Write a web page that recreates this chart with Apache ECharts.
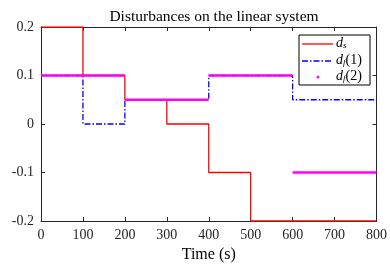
<!DOCTYPE html>
<html>
<head>
<meta charset="utf-8">
<script src="https://cdn.jsdelivr.net/npm/echarts@6/dist/echarts.min.js"></script>
<style>
  html, body { margin: 0; padding: 0; background: #fff; }
  #chart { width: 390px; height: 268px; }
</style>
</head>
<body>
<div id="chart"></div>
<script>
// step breakpoints (s) and values held until the next breakpoint
var dsTimes = [0, 100, 200, 300, 400, 500, 800];
var dsValues = [0.2, 0.1, 0.05, 0, -0.1, -0.2, -0.2];
var df1Times = [0, 100, 200, 400, 600, 800];
var df1Values = [0.1, 0, 0.05, 0.1, 0.05, 0.05];
// df(2) is drawn with dots, so no vertical jumps
var df2Edges = [0, 200, 400, 600, 800];
var df2Values = [0.1, 0.05, 0.1, -0.1];
var xTicks = [0, 800, 100];
var yTicks = [-0.2, 0.2, 0.1];
var legendNames = ['{d|d}{sub|s}', '{d|d}{sub|f}{n|(1)}', '{d|d}{sub|f}{n|(2)}'];

function pairs(xs, ys) {
  return xs.map(function (x, i) { return [x, ys[i]]; });
}
function segments(edges, vals) {
  var out = [];
  vals.forEach(function (v, i) {
    out.push([edges[i], v], [edges[i + 1], v]);
    if (i < vals.length - 1) out.push([edges[i + 1], '-']);
  });
  return out;
}

var font = 'Liberation Serif';
var axisColor = '#262626';
var red = '#ff0000', blue = '#0000ff', magenta = '#ff00ff';
var dashDot = [6, 2, 1.5, 2];

var chart = echarts.init(document.getElementById('chart'));
var baseX = {
  type: 'value', min: xTicks[0], max: xTicks[1], interval: xTicks[2],
  axisLine: { onZero: false, lineStyle: { color: axisColor, width: 1 } },
  axisTick: { inside: true, length: 4, lineStyle: { color: axisColor } },
  splitLine: { show: false }
};
var baseY = {
  type: 'value', min: yTicks[0], max: yTicks[1], interval: yTicks[2],
  axisLine: { show: true, onZero: false, lineStyle: { color: axisColor, width: 1 } },
  axisTick: { show: true, inside: true, length: 4, lineStyle: { color: axisColor } },
  splitLine: { show: false }
};

// legend box drawn by hand (matlab style)
var rich = {
  d: { fontFamily: font, fontSize: 14, fontStyle: 'italic', lineHeight: 16 },
  sub: { fontFamily: font, fontSize: 9, fontStyle: 'italic', lineHeight: 16, padding: [6, 0, 0, 0] },
  n: { fontFamily: font, fontSize: 14, fontStyle: 'normal', lineHeight: 16 }
};
var lx = 299, ly = 35, rowY = [44, 61, 77];
var legendGraphic = [
  { type: 'rect', z: 100, shape: { x: lx, y: ly, width: 71, height: 50 },
    style: { fill: '#fff', stroke: '#000', lineWidth: 1 } },
  { type: 'line', z: 101, shape: { x1: 302, y1: rowY[0], x2: 333, y2: rowY[0] },
    style: { stroke: red, lineWidth: 1.3 } },
  { type: 'line', z: 101, shape: { x1: 302, y1: rowY[1], x2: 333, y2: rowY[1] },
    style: { stroke: blue, lineWidth: 1.3, lineDash: dashDot } },
  { type: 'circle', z: 101, shape: { cx: 318, cy: rowY[2], r: 1.5 },
    style: { fill: magenta } }
];
legendNames.forEach(function (t, i) {
  legendGraphic.push({ type: 'text', z: 101, x: 336, y: rowY[i] - 1,
    style: { text: t, rich: rich, verticalAlign: 'middle', fill: '#000' } });
});

chart.setOption({
  animation: false,
  title: {
    text: 'Disturbances on the linear system',
    left: 209, top: 4, textAlign: 'center',
    textStyle: { fontFamily: font, fontSize: 15.5, fontWeight: 'normal', color: '#000' }
  },
  grid: { left: 41, right: 12, top: 27, bottom: 44 },
  graphic: legendGraphic,
  xAxis: [
    Object.assign({}, baseX, {
      position: 'bottom',
      name: 'Time (s)', nameLocation: 'middle', nameGap: 26,
      nameTextStyle: { fontFamily: font, fontSize: 16, color: '#000' },
      axisLabel: { fontFamily: font, fontSize: 14, color: axisColor, margin: 7 }
    }),
    Object.assign({}, baseX, { position: 'top', axisLabel: { show: false } })
  ],
  yAxis: [
    Object.assign({}, baseY, {
      position: 'left',
      axisLabel: { fontFamily: font, fontSize: 14, color: axisColor, margin: 7 }
    }),
    Object.assign({}, baseY, { position: 'right', axisLabel: { show: false } })
  ],
  series: [
    {
      name: 'ds', type: 'line', step: 'end', showSymbol: false, symbol: 'none',
      data: pairs(dsTimes, dsValues),
      lineStyle: { color: red, width: 1.3 }
    },
    {
      name: 'df1', type: 'line', step: 'end', showSymbol: false, symbol: 'none',
      data: pairs(df1Times, df1Values),
      lineStyle: { color: blue, width: 1.3, type: dashDot }
    },
    {
      name: 'df2', type: 'line', showSymbol: false, symbol: 'none',
      data: segments(df2Edges, df2Values),
      lineStyle: { color: magenta, width: 2.6 }
    }
  ]
});
</script>
</body>
</html>
